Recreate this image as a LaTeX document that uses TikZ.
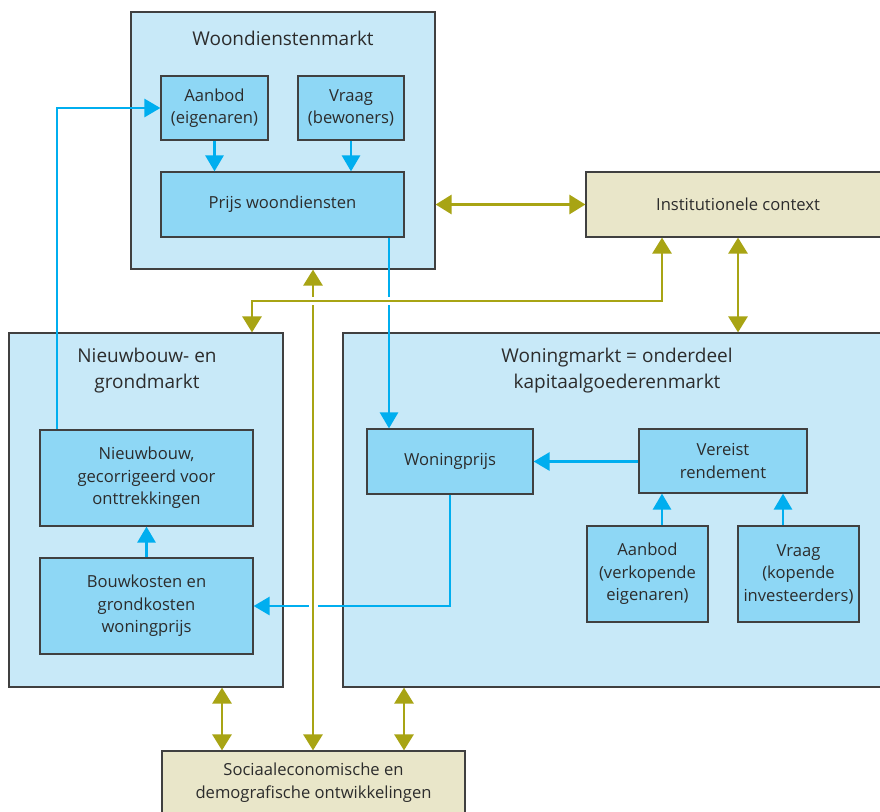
\documentclass[tikz,border=0pt]{standalone}
\usepackage{fontspec}
\setmainfont{Open Sans}
\usetikzlibrary{arrows.meta,calc}
\definecolor{outerfill}{HTML}{C8E9F8}
\definecolor{innerfill}{HTML}{8ED7F5}
\definecolor{boxline}{HTML}{404040}
\definecolor{bluearr}{HTML}{00AEEF}
\definecolor{olive}{HTML}{A8A414}
\definecolor{beige}{HTML}{E9E6C9}
\definecolor{txt}{HTML}{2C2C2C}
\tikzset{
  outerbox/.style={draw=boxline, line width=1.2pt, fill=outerfill, inner sep=0pt},
  innerbox/.style={draw=boxline, line width=1.2pt, fill=innerfill, inner sep=0pt, align=center, text=txt, font=\fontsize{16.6}{22.5}\selectfont},
  ctxbox/.style={draw=boxline, line width=1.2pt, fill=beige, inner sep=0pt, align=center, text=txt, font=\fontsize{16.6}{23}\selectfont},
  titletext/.style={align=center, text=txt, font=\fontsize{19}{26}\selectfont, inner sep=0pt},
  barrow/.style={draw=bluearr, line width=2.8pt, -{Triangle[length=16pt,width=18pt]}},
  oarrow/.style={draw=olive, line width=2.8pt, {Triangle[length=16pt,width=19pt]}-{Triangle[length=16pt,width=19pt]}},
  gap/.style={fill=white, draw=none}
}
\begin{document}
\begin{tikzpicture}[x=1pt,y=-1pt]
\clip (0,0) rectangle (880,811);
\fill[white] (0,0) rectangle (880,811);
% outer boxes
\node[outerbox, minimum width=304pt, minimum height=257pt] (wd) at (283,140.5) {};
\node[outerbox, minimum width=274pt, minimum height=354pt] (ng) at (146,510) {};
\node[outerbox, minimum width=547pt, minimum height=354pt] (wm) at (616.5,510) {};
\node[ctxbox, minimum width=304pt, minimum height=65pt] (ic) at (738,204.5) {Institutionele context};
\node[ctxbox, minimum width=303pt, minimum height=64pt] (se) at (313.5,783) {Sociaaleconomische en\\demografische ontwikkelingen};
% titles
\node[titletext] (wdt) at (283,38) {Woondienstenmarkt};
\node[titletext] (ngt) at (147,371) {Nieuwbouw- en\\grondmarkt};
\node[titletext] (wmt) at (617,371) {Woningmarkt = onderdeel\\kapitaalgoederenmarkt};
% inner boxes
\node[innerbox, minimum width=107pt, minimum height=64pt] (ab1) at (214.5,108) {Aanbod\\(eigenaren)};
\node[innerbox, minimum width=106pt, minimum height=64pt] (vr1) at (351,108) {Vraag\\(bewoners)};
\node[innerbox, minimum width=243pt, minimum height=65pt] (pw) at (282.5,204.5) {Prijs woondiensten};
\node[innerbox, minimum width=213pt, minimum height=96pt] (nb) at (146.5,478) {Nieuwbouw,\\gecorrigeerd voor\\onttrekkingen};
\node[innerbox, minimum width=213pt, minimum height=96pt] (bk) at (146.5,606) {Bouwkosten en\\grondkosten\\woningprijs};
\node[innerbox, minimum width=166pt, minimum height=65pt] (wp) at (450,461.5) {Woningprijs};
\node[innerbox, minimum width=168pt, minimum height=64pt] (vr) at (723,461) {Vereist\\rendement};
\node[innerbox, minimum width=121pt, minimum height=96pt] (ab2) at (647.5,574) {Aanbod\\(verkopende\\eigenaren)};
\node[innerbox, minimum width=121pt, minimum height=96pt] (vq2) at (798.5,574) {Vraag\\(kopende\\investeerders)};
% routing coordinates
\coordinate (b1) at (57,108);
\coordinate (b2) at (389,0);
\coordinate (b3) at (662,0);
\coordinate (b4) at (783,0);
\coordinate (o1) at (662,301);
\coordinate (o2) at (252,301);
\coordinate (o3) at (738,0);
\coordinate (o4) at (313,0);
\coordinate (o5) at (222,0);
\coordinate (o6) at (404,0);
% blue connectors
\draw[barrow] (b1 |- nb.north) -- (b1) -- (ab1.west);
\draw[barrow] (ab1.south) -- (ab1.south |- pw.north);
\draw[barrow] (vr1.south) -- (vr1.south |- pw.north);
\draw[barrow] (b2 |- pw.south) -- (b2 |- wp.north);
\draw[barrow] (vr.west |- wp.east) -- (wp.east);
\draw[barrow] (b3 |- ab2.north) -- (b3 |- vr.south);
\draw[barrow] (b4 |- vq2.north) -- (b4 |- vr.south);
\draw[barrow] (bk.north) -- (nb.south);
\draw[barrow] (wp.south) -- (wp.south |- bk.east) -- (bk.east);
% gap in blue line under olive vertical
\coordinate (x1) at (o4 |- bk.east);
\fill[gap] ($(x1)+(-4.5,-4)$) rectangle ($(x1)+(4.5,4)$);
% olive connectors
\draw[oarrow] (wd.east |- ic.west) -- (ic.west);
\draw[oarrow] (o3 |- ic.south) -- (o3 |- wm.north);
\draw[oarrow] (o4 |- wd.south) -- (o4 |- se.north);
\draw[oarrow] (o5 |- ng.south) -- (o5 |- se.north);
\draw[oarrow] (o6 |- wm.south) -- (o6 |- se.north);
% gaps under olive horizontal
\coordinate (x2) at (o4 |- o1);
\coordinate (x3) at (b2 |- o1);
\fill[gap] ($(x2)+(-3,-4.2)$) rectangle ($(x2)+(3,4.2)$);
\fill[gap] ($(x3)+(-3,-4.2)$) rectangle ($(x3)+(3,4.2)$);
\draw[oarrow] (o1 |- ic.south) -- (o1) -- (o2) -- (o2 |- ng.north);
\end{tikzpicture}
\end{document}
